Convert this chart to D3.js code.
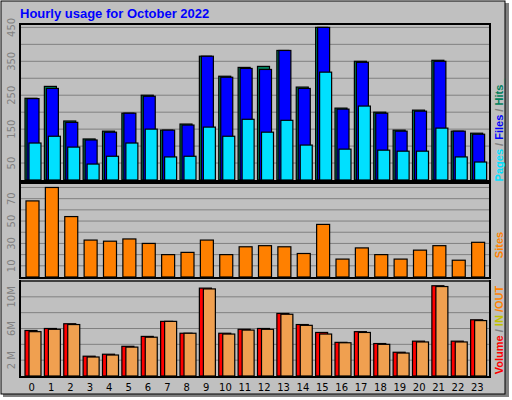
<!DOCTYPE html><html><head><script src="https://cdn.jsdelivr.net/npm/d3@7"></script>
<style>body{margin:0;background:#fff}</style></head><body><svg id="c" width="512" height="400"></svg>
<script>
const hours=d3.range(24).map(String);
const hits=[241,276,174,121,144,197,250,147,165,365,306,332,335,382,274,450,212,350,200,147,206,353,144,138];
const files=[240,270,170,118,141,197,247,147,162,365,303,329,326,382,270,450,209,347,197,144,203,350,144,135];
const pages=[109,129,97,47,70,109,150,68,70,156,129,179,141,176,103,318,91,218,88,85,85,153,68,53];
const sites=[68,80,54,33,32,34,30,20,22,33,20,27,28,27,21,47,16,26,20,16,24,28,15,31];
const volume=[5.75,6.0,6.6,2.5,2.75,3.75,5.0,6.9,5.4,11.1,5.4,5.9,6.0,7.9,6.5,5.5,4.25,5.6,4.1,3.0,4.4,11.4,4.4,7.1];
const volIn=[5.6,5.9,6.5,2.4,2.65,3.65,4.9,6.9,5.4,11.0,5.3,5.8,5.9,7.8,6.4,5.3,4.2,5.5,4.0,2.9,4.3,11.3,4.3,7.0];
const topTicks=[50,150,250,350,450], midTicks=[10,30,50,70], botTicks=[2,6,10];
const svg=d3.select("#c");
svg.append("rect").attr("x",0).attr("y",0).attr("width",512).attr("height",400).attr("fill","#fff");
svg.append("rect").attr("x",3).attr("y",3).attr("width",506).attr("height",394).attr("fill","#808080");
svg.append("rect").attr("x",1).attr("y",1).attr("width",504).attr("height",393).attr("fill","#c0c0c0").attr("stroke","#000");
svg.append("text").attr("x",20).attr("y",18).text("Hourly usage for October 2022").attr("font-family","Liberation Sans,Arial").attr("font-weight","bold").attr("font-size",13).attr("fill","#0000ff");
const x=d3.scaleBand().domain(hours).range([21,486]);
function panel(y0,y1,max,ticks,fmt,gridStep){
  svg.append("rect").attr("x",20).attr("y",y0).attr("width",470).attr("height",y1-y0).attr("fill","#c0c0c0").attr("stroke","#000").attr("stroke-width",2);
  const y=d3.scaleLinear().domain([0,max]).range([y1-1,y0]);
  d3.range(gridStep,max+0.001,gridStep).forEach(v=>svg.append("line").attr("x1",21).attr("x2",489).attr("y1",y(v)).attr("y2",y(v)).attr("stroke","#808080"));
  ticks.forEach(v=>svg.append("text").attr("transform",`translate(15,${y(v)}) rotate(-90)`).attr("text-anchor","middle").attr("font-family","DejaVu Sans").attr("font-size",10).attr("fill","#808080").text(fmt(v)));
  return y;
}
function bars(data,y,off,w,color){
  svg.append("g").selectAll("rect").data(data).join("rect").attr("x",(d,i)=>x(hours[i])+off).attr("width",w).attr("y",d=>y(d)).attr("height",d=>y(0)-y(d)).attr("fill",color).attr("stroke","#000").attr("stroke-width",1.2);
}
const y1=panel(24,181,460,topTicks,d=>d,50);
bars(hits,y1,4,12,"#00805c");bars(files,y1,6,12,"#0000ff");bars(pages,y1,8,12,"#00e0ff");
const y2=panel(183,278,84,midTicks,d=>d,10);
bars(sites,y2,5,13,"#ff8000");
const y3=panel(281,377,12,botTicks,d=>d===2?"2 M":d+"M",2);
bars(volume,y3,4,12,"#ff0000");bars(volIn,y3,8,12,"#f0a050");
svg.append("g").selectAll("text").data(hours).join("text").attr("x",d=>x(d)+x.bandwidth()/2+1).attr("y",391).attr("text-anchor","middle").attr("font-family","DejaVu Sans").attr("font-size",10).attr("fill","#000").text(d=>d);
function vlegend(yc,parts){
  const t=svg.append("text").attr("transform",`translate(503,${yc}) rotate(-90)`).attr("text-anchor","middle").attr("font-family","Liberation Sans,Arial").attr("font-weight","bold").attr("font-size",11);
  parts.forEach(([s,c])=>t.append("tspan").attr("fill",c).text(s));
}
vlegend(130,[["Pages","#00e0ff"],[" / ","#808080"],["Files","#0000ff"],[" / ","#808080"],["Hits_","#00805c"]]);
vlegend(245,[["Sites","#ff8000"]]);
vlegend(330,[["Volume","#ff0000"],[" / ","#808080"],["IN","#c0c000"],[" /OUT","#ff8000"]]);
</script></body></html>
